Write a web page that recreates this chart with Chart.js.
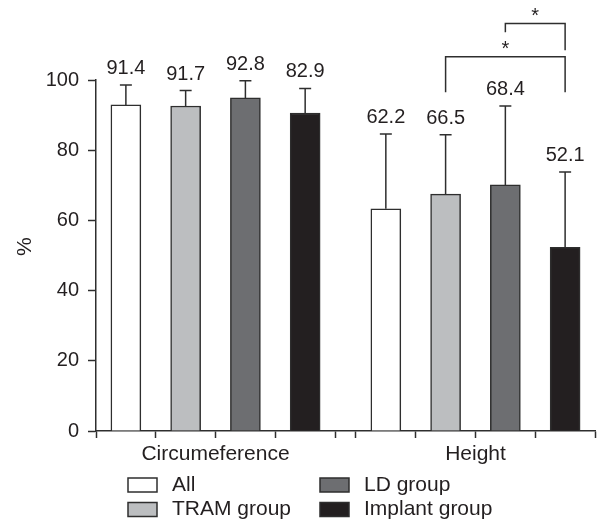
<!DOCTYPE html>
<html lang="en">
<head>
	<meta charset="UTF-8" />
	<title>Circumference and height by group</title>
	<script src="https://cdn.jsdelivr.net/npm/chart.js"></script>
	<style>
		body {
			margin: 0;
			background: #ffffff;
		}

		.chart-wrap {
			position: relative;
			width: 599px;
			height: 525px;
		}
	</style>
</head>
<body>
	<div class="chart-wrap">
		<canvas id="groupChart"></canvas>
	</div>

	<script>
		const groupLabels = ['Circumeference', 'Height'];
		const seriesNames = ['All', 'TRAM group', 'LD group', 'Implant group'];
		const seriesColors = ['#ffffff', '#bcbec0', '#6d6e71', '#231f20'];

		// bar heights as drawn, [circumference, height]
		const allValues = [92.9, 63.3];
		const tramValues = [92.6, 67.5];
		const ldValues = [94.9, 70.1];
		const implantValues = [90.6, 52.3];

		// upper error bar lengths
		const allErrors = [5.7, 21.3];
		const tramErrors = [4.4, 16.9];
		const ldErrors = [4.9, 22.5];
		const implantErrors = [7.0, 21.5];

		// numbers printed above the bars
		const allLabels = ['91.4', '62.2'];
		const tramLabels = ['91.7', '66.5'];
		const ldLabels = ['92.8', '68.4'];
		const implantLabels = ['82.9', '52.1'];

		// bar centres on the x scale, one slot per bar, small gap between groups
		const circumferenceSlots = [0.5, 1.5, 2.5, 3.5];
		const heightSlots = [4.85, 5.85, 6.85, 7.85];
		const groupSlots = [circumferenceSlots, heightSlots];
		const groupCenters = [2, 6.35];
		const xTicks = [0, 1, 2, 3, 4, 4.35, 5.35, 6.35, 7.35, 8.35];
		const yTicks = [0, 20, 40, 60, 80, 100];

		// significance brackets (x from/to, bar top, leg ends, star height)
		const brackets = [
			{ from: 5.85, to: 7.85, top: 106.6, leftEnd: 96.5, rightEnd: 96.5, star: 110.3 },
			{ from: 6.85, to: 7.85, top: 116.1, leftEnd: 113.6, rightEnd: 108.5, star: 119.8 },
		];

		const seriesValues = [allValues, tramValues, ldValues, implantValues];
		const seriesErrors = [allErrors, tramErrors, ldErrors, implantErrors];
		const seriesLabels = [allLabels, tramLabels, ldLabels, implantLabels];

		const FONT = '"Liberation Sans", Arial, Helvetica, sans-serif';
		const INK = '#231f20';
		const LINE = '#2e2e2e';

		const annotations = {
			id: 'annotations',
			afterDatasetsDraw(chart) {
				const { ctx } = chart;
				const xs = chart.scales.x;
				const ys = chart.scales.y;

				ctx.save();
				ctx.strokeStyle = LINE;
				ctx.lineWidth = 1.5;
				ctx.fillStyle = INK;
				ctx.font = `20px ${FONT}`;
				ctx.textAlign = 'center';
				ctx.textBaseline = 'alphabetic';

				chart.data.datasets.forEach((dataset, i) => {
					const meta = chart.getDatasetMeta(i);
					meta.data.forEach((bar, j) => {
						const yTop = ys.getPixelForValue(seriesValues[i][j] + seriesErrors[i][j]);
						ctx.beginPath();
						ctx.moveTo(bar.x, bar.y);
						ctx.lineTo(bar.x, yTop);
						ctx.moveTo(bar.x - 6, yTop);
						ctx.lineTo(bar.x + 6, yTop);
						ctx.stroke();
						ctx.fillText(seriesLabels[i][j], bar.x, yTop - 11);
					});
				});

				brackets.forEach((b) => {
					const x1 = xs.getPixelForValue(b.from);
					const x2 = xs.getPixelForValue(b.to);
					const yLine = ys.getPixelForValue(b.top);
					ctx.beginPath();
					ctx.moveTo(x1, ys.getPixelForValue(b.leftEnd));
					ctx.lineTo(x1, yLine);
					ctx.lineTo(x2, yLine);
					ctx.lineTo(x2, ys.getPixelForValue(b.rightEnd));
					ctx.stroke();
					ctx.fillText('*', (x1 + x2) / 2, ys.getPixelForValue(b.star) + 11.5);
				});

				// y axis title
				ctx.save();
				ctx.translate(25, ys.getPixelForValue(52.5));
				ctx.rotate(-Math.PI / 2);
				ctx.font = `21px ${FONT}`;
				ctx.textBaseline = 'middle';
				ctx.fillText('%', 0, 0);
				ctx.restore();

				ctx.restore();
			},
			afterDraw(chart) {
				const { ctx } = chart;
				const columns = [128, 320];
				const rows = [478, 502.5];

				ctx.save();
				ctx.font = `21px ${FONT}`;
				ctx.textAlign = 'left';
				ctx.textBaseline = 'middle';
				ctx.lineWidth = 1.5;
				ctx.strokeStyle = LINE;

				chart.data.datasets.forEach((dataset, i) => {
					const x = columns[Math.floor(i / 2)];
					const y = rows[i % 2];
					ctx.fillStyle = dataset.backgroundColor;
					ctx.fillRect(x, y, 29, 14);
					ctx.strokeRect(x, y, 29, 14);
					ctx.fillStyle = INK;
					ctx.fillText(dataset.label, x + 44, y + 7);
				});

				ctx.restore();
			},
		};

		const datasets = seriesNames.map((name, i) => ({
			label: name,
			data: groupSlots.map((slots, j) => ({ x: slots[i], y: seriesValues[i][j] })),
			backgroundColor: seriesColors[i],
			borderColor: LINE,
			borderWidth: 1.5,
			borderSkipped: 'start',
			barThickness: 30,
			grouped: false,
		}));

		new Chart(document.getElementById('groupChart'), {
			type: 'bar',
			data: { datasets },
			options: {
				responsive: true,
				maintainAspectRatio: false,
				animation: false,
				layout: {
					padding: { top: 80, right: 1, bottom: 54, left: 0 },
				},
				plugins: {
					legend: { display: false },
					tooltip: { enabled: false },
				},
				scales: {
					x: {
						type: 'linear',
						min: 0,
						max: 8.35,
						offset: false,
						afterBuildTicks(scale) {
							scale.ticks = xTicks.map((value) => ({ value }));
						},
						afterFit(scale) {
							scale.height = 40;
						},
						ticks: {
							autoSkip: false,
							maxRotation: 0,
							padding: 4,
							color: INK,
							font: { family: FONT, size: 21 },
							callback(value) {
								const k = groupCenters.findIndex((c) => Math.abs(c - value) < 1e-6);
								return k >= 0 ? groupLabels[k] : '';
							},
						},
						grid: {
							offset: false,
							drawOnChartArea: false,
							drawTicks: true,
							tickLength: 7,
							tickColor: LINE,
							tickWidth: 1.5,
						},
						border: { color: LINE, width: 1.5 },
					},
					y: {
						min: 0,
						max: 100,
						afterBuildTicks(scale) {
							scale.ticks = yTicks.map((value) => ({ value }));
						},
						afterFit(scale) {
							scale.width = 96;
						},
						ticks: {
							padding: 9,
							color: INK,
							font: { family: FONT, size: 20 },
						},
						grid: {
							drawOnChartArea: false,
							drawTicks: true,
							tickLength: 8,
							tickColor: LINE,
							tickWidth: 1.5,
						},
						border: { color: LINE, width: 1.5 },
					},
				},
			},
			plugins: [annotations],
		});
	</script>
</body>
</html>
